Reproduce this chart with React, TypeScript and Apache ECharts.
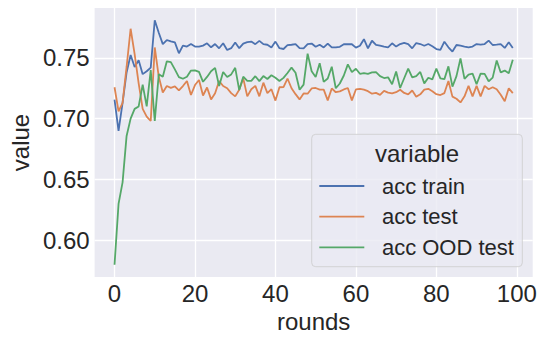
import React, { useEffect, useRef } from "react";
import * as echarts from "echarts";

const seriesNames = ["acc train", "acc test", "acc OOD test"];
const seriesColors = ["#4C72B0", "#DD8452", "#55A868"];

const accTrain = [
  0.7156, 0.6898, 0.713, 0.738, 0.7524, 0.7425, 0.748, 0.7366, 0.739, 0.742,
  0.781, 0.7707, 0.7613, 0.7647, 0.7636, 0.7628, 0.7538, 0.7601, 0.7593, 0.7614,
  0.7593, 0.7593, 0.7601, 0.762, 0.7587, 0.7614, 0.7579, 0.762, 0.7565, 0.758,
  0.7626, 0.758, 0.7618, 0.763, 0.7634, 0.7613, 0.764, 0.7613, 0.7608, 0.7586,
  0.7634, 0.758, 0.7573, 0.7605, 0.7608, 0.7613, 0.758, 0.7578, 0.7613, 0.7618,
  0.7591, 0.7608, 0.7586, 0.7618, 0.7586, 0.7586, 0.7591, 0.7612, 0.7613, 0.7612,
  0.7584, 0.76, 0.7654, 0.7579, 0.7641, 0.7607, 0.76, 0.7593, 0.7587, 0.762,
  0.7593, 0.7614, 0.7624, 0.7614, 0.7579, 0.7622, 0.7614, 0.76, 0.7614, 0.7595,
  0.7573, 0.7565, 0.7633, 0.7587, 0.7552, 0.7606, 0.76, 0.7593, 0.7587, 0.7593,
  0.7614, 0.7609, 0.7614, 0.7642, 0.7606, 0.7609, 0.7614, 0.7582, 0.7628, 0.7582,
];

const accTest = [
  0.7258, 0.706, 0.713, 0.7425, 0.774, 0.753, 0.729, 0.708, 0.7016, 0.698,
  0.7586, 0.7344, 0.7215, 0.7268, 0.7253, 0.7265, 0.7232, 0.7268, 0.731, 0.7194,
  0.7276, 0.7318, 0.719, 0.7256, 0.7158, 0.7208, 0.731, 0.7268, 0.725, 0.721,
  0.7183, 0.7237, 0.7331, 0.7183, 0.7242, 0.7269, 0.7183, 0.7296, 0.721, 0.7242,
  0.7148, 0.7258, 0.7259, 0.733, 0.725, 0.7201, 0.7158, 0.7207, 0.7205, 0.7248,
  0.7252, 0.7239, 0.7238, 0.715, 0.7248, 0.7217, 0.7224, 0.724, 0.7252, 0.715,
  0.724, 0.7244, 0.7238, 0.7226, 0.7205, 0.7212, 0.7195, 0.7228, 0.7214, 0.7208,
  0.7217, 0.7238, 0.7211, 0.72, 0.7231, 0.718, 0.72, 0.7238, 0.7245, 0.7225,
  0.7201, 0.7194, 0.721, 0.7309, 0.7181, 0.7163, 0.7133, 0.7183, 0.7269, 0.7183,
  0.7269, 0.7183, 0.7269, 0.7242, 0.7258, 0.7242, 0.7196, 0.7142, 0.725, 0.721,
];

const accOOD = [
  0.5796, 0.6297, 0.6475, 0.6857, 0.7, 0.708, 0.71, 0.728, 0.71, 0.74,
  0.698, 0.7366, 0.7344, 0.7472, 0.7465, 0.7405, 0.7342, 0.7328, 0.7345, 0.7395,
  0.7397, 0.7384, 0.7303, 0.7343, 0.739, 0.7418, 0.7268, 0.7384, 0.7342, 0.7364,
  0.7418, 0.7235, 0.7345, 0.731, 0.731, 0.7349, 0.7309, 0.735, 0.7326, 0.7357,
  0.7336, 0.731, 0.7335, 0.7375, 0.742, 0.7377, 0.7237, 0.728, 0.7535, 0.739,
  0.7343, 0.7456, 0.7302, 0.733, 0.7427, 0.725, 0.7289, 0.7355, 0.7446, 0.7383,
  0.741, 0.7369, 0.7375, 0.7369, 0.738, 0.7382, 0.735, 0.7334, 0.734, 0.7283,
  0.7387, 0.7252, 0.7332, 0.7411, 0.7339, 0.735, 0.7384, 0.729, 0.7336, 0.7323,
  0.7411, 0.7331, 0.7325, 0.743, 0.7263, 0.735, 0.7496, 0.7327, 0.7362, 0.737,
  0.7283, 0.737, 0.7368, 0.7307, 0.7337, 0.7478, 0.738, 0.7395, 0.7373, 0.7484,
];

const rounds = accTrain.map((_, i) => i);
const xTicks = [0, 20, 40, 60, 80, 100];
const yTicks = [0.6, 0.65, 0.7, 0.75];
const legendTitle = "variable";
const xName = "rounds";
const yName = "value";

const FONT = "'Liberation Sans', Arial, sans-serif";
const TEXT = "#262626";

export default function App() {
  const ref = useRef<HTMLDivElement>(null);
  useEffect(() => {
    if (!ref.current) return;
    const chart = echarts.init(ref.current, undefined, { renderer: "svg" });
    const all = [...accTrain, ...accTest, ...accOOD];
    const lo = Math.min(...all);
    const hi = Math.max(...all);
    const yPad = (hi - lo) * 0.05;
    const xLo = rounds[0];
    const xHi = rounds[rounds.length - 1];
    const xPad = (xHi - xLo) * 0.05;
    const values = [accTrain, accTest, accOOD];

    chart.setOption({
      animation: false,
      backgroundColor: "#ffffff",
      textStyle: { fontFamily: FONT },
      grid: {
        left: 88,
        top: 8,
        width: 444.7,
        height: 269,
        show: true,
        backgroundColor: "#EAEAF2",
        borderWidth: 0,
      },
      xAxis: {
        type: "value",
        min: xLo - xPad,
        max: xHi + xPad,
        name: xName,
        nameLocation: "middle",
        nameGap: 29,
        nameTextStyle: { fontSize: 24, color: TEXT, fontFamily: FONT },
        axisLine: { show: false },
        axisTick: { show: false, customValues: xTicks },
        axisLabel: {
          customValues: xTicks,
          fontSize: 24,
          color: TEXT,
          fontFamily: FONT,
          margin: 4,
        },
        splitLine: { show: true, lineStyle: { color: "#ffffff", width: 1.3 } },
      },
      yAxis: {
        type: "value",
        min: lo - yPad,
        max: hi + yPad,
        name: yName,
        nameLocation: "middle",
        nameGap: 61,
        nameTextStyle: { fontSize: 24, color: TEXT, fontFamily: FONT },
        axisLine: { show: false },
        axisTick: { show: false, customValues: yTicks },
        axisLabel: {
          customValues: yTicks,
          fontSize: 24,
          color: TEXT,
          fontFamily: FONT,
          margin: 5,
          formatter: (v: number) => v.toFixed(2),
        },
        splitLine: { show: true, lineStyle: { color: "#ffffff", width: 1.3 } },
      },
      legend: {
        orient: "vertical",
        left: 319.3,
        top: 175,
        padding: 0,
        z: 20,
        icon: "rect",
        itemWidth: 45,
        itemHeight: 1.8,
        itemGap: 8.7,
        data: seriesNames,
        textStyle: {
          fontSize: 22,
          lineHeight: 22,
          color: TEXT,
          fontFamily: FONT,
          padding: [0, 0, 0, 12.6],
        },
      },
      graphic: [
        {
          type: "rect",
          z: 10,
          shape: { x: 311.7, y: 134.3, width: 210.6, height: 132.4, r: 4 },
          style: {
            fill: "rgba(234,234,242,0.8)",
            stroke: "rgba(204,204,204,0.8)",
            lineWidth: 1,
          },
        },
        {
          type: "text",
          z: 20,
          x: 417,
          y: 153.3,
          style: {
            text: legendTitle,
            fontSize: 24,
            fontFamily: FONT,
            fill: TEXT,
            align: "center",
            verticalAlign: "middle",
          },
        },
      ],
      series: seriesNames.map((name, k) => ({
        name,
        type: "line",
        data: rounds.map((r, i) => [r, values[k][i]]),
        showSymbol: false,
        symbol: "none",
        color: seriesColors[k],
        lineStyle: { width: 1.8, color: seriesColors[k] },
        z: 3,
      })),
    });
    return () => chart.dispose();
  }, []);
  return (
    <div
      ref={ref}
      style={{ position: "fixed", left: 0, top: 0, width: 542, height: 342 }}
    />
  );
}
